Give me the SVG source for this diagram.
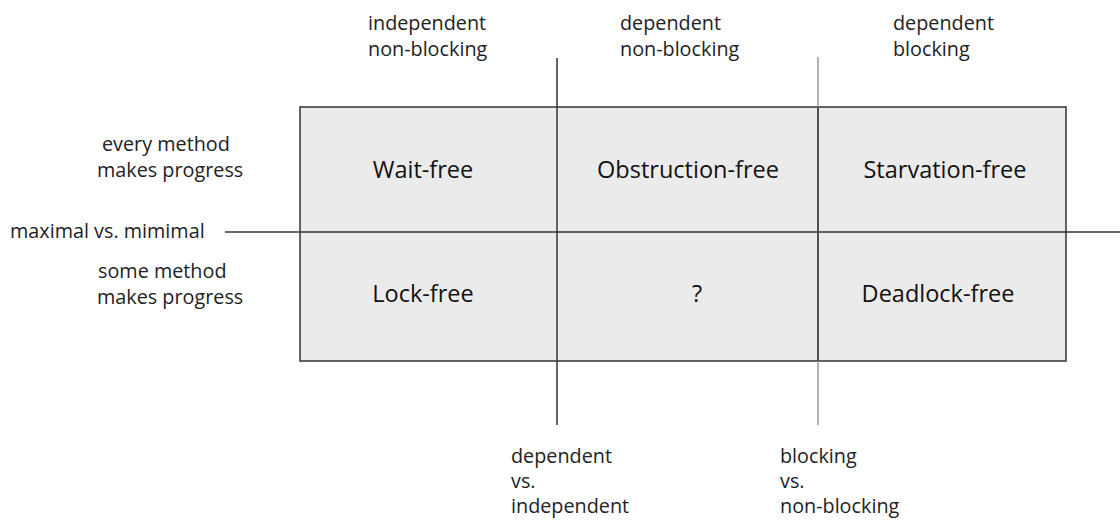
<svg xmlns="http://www.w3.org/2000/svg" width="1120" height="521" viewBox="0 0 1120 521">
<style>
.lbl{font-family:"Open Sans","Noto Sans",sans-serif;font-size:19.8px;fill:#222}
.cell{font-family:"Open Sans","Noto Sans",sans-serif;font-size:23.5px;fill:#111;text-anchor:middle}
.ln{stroke:#333;stroke-width:1.5;fill:none}
.lg{stroke:#999;stroke-width:1.5;fill:none}
</style>
<rect x="0" y="0" width="1120" height="521" fill="#fff"/>
<g id="grid">
<rect x="300" y="107" width="766" height="254" fill="#ebebeb" stroke="#333" stroke-width="1.5"/>
</g>
<g id="connectors">
<line class="ln" x1="225" y1="232" x2="1120" y2="232"/>
<line class="ln" x1="557" y1="58" x2="557" y2="425"/>
<line class="lg" x1="818" y1="57" x2="818" y2="425"/>
<line class="ln" x1="818" y1="107" x2="818" y2="361"/>
</g>
<g id="cell-waitfree"><text class="cell" x="423" y="178">Wait-free</text></g>
<g id="cell-obstructionfree"><text class="cell" x="688" y="178">Obstruction-free</text></g>
<g id="cell-starvationfree"><text class="cell" x="945" y="178">Starvation-free</text></g>
<g id="cell-lockfree"><text class="cell" x="423" y="302">Lock-free</text></g>
<g id="cell-unknown"><text class="cell" x="697" y="302">?</text></g>
<g id="cell-deadlockfree"><text class="cell" x="938" y="302">Deadlock-free</text></g>
<g id="label-top1"><text class="lbl" x="368" y="30">independent</text><text class="lbl" x="368" y="56">non-blocking</text></g>
<g id="label-top2"><text class="lbl" x="620" y="30">dependent</text><text class="lbl" x="620" y="56">non-blocking</text></g>
<g id="label-top3"><text class="lbl" x="893" y="30">dependent</text><text class="lbl" x="893" y="56">blocking</text></g>
<g id="label-row1"><text class="lbl" x="102" y="151">every method</text><text class="lbl" x="97" y="177">makes progress</text></g>
<g id="label-axis-h"><text class="lbl" x="10" y="238">maximal vs. mimimal</text></g>
<g id="label-row2"><text class="lbl" x="98" y="278">some method</text><text class="lbl" x="97" y="304">makes progress</text></g>
<g id="label-bottom1"><text class="lbl" x="511" y="463">dependent</text><text class="lbl" x="511" y="488">vs.</text><text class="lbl" x="511" y="513">independent</text></g>
<g id="label-bottom2"><text class="lbl" x="780" y="463">blocking</text><text class="lbl" x="780" y="488">vs.</text><text class="lbl" x="780" y="513">non-blocking</text></g>
</svg>
